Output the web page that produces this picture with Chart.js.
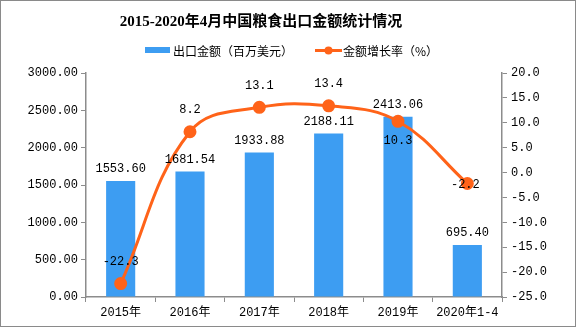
<!DOCTYPE html>
<html>
<head>
<meta charset="utf-8">
<script src="https://cdn.jsdelivr.net/npm/chart.js@4"></script>
<style>
  body { margin: 0; background: #fff; }
  #wrap { width: 576px; height: 327px; }
</style>
</head>
<body>
<div id="wrap"><canvas id="myChart" width="576" height="327"></canvas></div>
<script>
const categories = ['2015年', '2016年', '2017年', '2018年', '2019年', '2020年1-4'];
const exportValues = [1553.60, 1681.54, 1933.88, 2188.11, 2413.06, 695.40];
const growthRates = [-22.3, 8.2, 13.1, 13.4, 10.3, -2.2];
const leftTickValues = [0, 500, 1000, 1500, 2000, 2500, 3000];
const rightTickValues = [-25, -20, -15, -10, -5, 0, 5, 10, 15, 20];

const titleText = '2015-2020年4月中国粮食出口金额统计情况';
const barLegend = '出口金额（百万美元）';
const lineLegend = '金额增长率（%）';

const BAR_COLOR = '#3d9df2';
const LINE_COLOR = '#ff6319';
const AXIS_COLOR = '#8c8c8c';
const NUM_FONT = "'Liberation Mono', 'Noto Sans CJK SC', monospace";
const CJK_FONT = "'Noto Sans CJK SC', sans-serif";

// where the growth label sits relative to its point
const lineLabelPlace = ['top', 'top', 'top', 'top', 'bottom', 'center'];

const decorPlugin = {
    id: 'decor',
    afterDraw(chart) {
        const ctx = chart.ctx;
        ctx.save();
        // frame
        ctx.strokeStyle = '#8a8a8a';
        ctx.lineWidth = 1;
        ctx.strokeRect(0.5, 0.5, chart.width - 1, chart.height - 1);

        // title
        ctx.fillStyle = '#000';
        ctx.textAlign = 'center';
        ctx.textBaseline = 'middle';
        ctx.font = "bold 15px 'Liberation Serif', 'Noto Sans CJK SC', serif";
        ctx.fillText(titleText, 261, 22);

        // legend
        ctx.font = '12px ' + CJK_FONT;
        ctx.textAlign = 'left';
        ctx.fillStyle = BAR_COLOR;
        ctx.fillRect(145, 47, 25, 6);
        ctx.fillStyle = '#000';
        ctx.fillText(barLegend, 173, 51);

        ctx.strokeStyle = LINE_COLOR;
        ctx.lineWidth = 3;
        ctx.beginPath();
        ctx.moveTo(315, 50.5);
        ctx.lineTo(342, 50.5);
        ctx.stroke();
        ctx.fillStyle = LINE_COLOR;
        ctx.beginPath();
        ctx.arc(328.5, 50.5, 4, 0, Math.PI * 2);
        ctx.fill();
        ctx.fillStyle = '#000';
        ctx.fillText(lineLegend, 343, 51);
        ctx.restore();
    },
    afterDatasetsDraw(chart) {
        const ctx = chart.ctx;
        ctx.save();
        ctx.fillStyle = '#000';
        ctx.font = '12px ' + NUM_FONT;
        ctx.textAlign = 'center';
        ctx.textBaseline = 'middle';

        const barMeta = chart.getDatasetMeta(1);
        barMeta.data.forEach((bar, i) => {
            ctx.fillText(exportValues[i].toFixed(2), bar.x, bar.y - 12);
        });

        const lineMeta = chart.getDatasetMeta(0);
        lineMeta.data.forEach((pt, i) => {
            let dx = 0, dy = -22;
            if (lineLabelPlace[i] === 'bottom') dy = 20;
            if (lineLabelPlace[i] === 'center') { dy = 1; dx = -2; }
            ctx.fillText(growthRates[i].toFixed(1), pt.x + dx, pt.y + dy);
        });
        ctx.restore();
    }
};

const initChart = () => {
    const ctx = document.getElementById('myChart').getContext('2d');
    new Chart(ctx, {
        type: 'bar',
        data: {
            labels: categories,
            datasets: [
                {
                    type: 'line',
                    label: lineLegend,
                    data: growthRates,
                    yAxisID: 'y1',
                    borderColor: LINE_COLOR,
                    backgroundColor: LINE_COLOR,
                    borderWidth: 3,
                    pointRadius: 5,
                    pointHoverRadius: 5,
                    tension: 0.4,
                    order: 0
                },
                {
                    type: 'bar',
                    label: barLegend,
                    data: exportValues,
                    yAxisID: 'y',
                    backgroundColor: BAR_COLOR,
                    barPercentage: 0.42,
                    categoryPercentage: 1,
                    order: 1
                }
            ]
        },
        options: {
            responsive: false,
            animation: false,
            layout: { padding: { top: 73, left: 0, right: 0, bottom: 0 } },
            plugins: {
                legend: { display: false },
                title: { display: false },
                tooltip: { enabled: false }
            },
            scales: {
                x: {
                    offset: true,
                    grid: { offset: true, drawOnChartArea: false, tickLength: 5, color: AXIS_COLOR },
                    border: { color: AXIS_COLOR, width: 1.5 },
                    ticks: { color: '#000', font: { family: NUM_FONT, size: 12 }, padding: 4, maxRotation: 0 },
                    afterFit: (s) => { s.height = 30; }
                },
                y: {
                    position: 'left',
                    min: 0,
                    max: 3000,
                    afterBuildTicks: (s) => { s.ticks = leftTickValues.map(v => ({ value: v })); },
                    grid: { drawOnChartArea: false, tickLength: 5, color: AXIS_COLOR },
                    border: { color: AXIS_COLOR, width: 1.5 },
                    ticks: {
                        color: '#000',
                        font: { family: NUM_FONT, size: 12 },
                        padding: 3,
                        callback: (v) => Number(v).toFixed(2)
                    },
                    afterFit: (s) => { s.width = 86; }
                },
                y1: {
                    position: 'right',
                    min: -25,
                    max: 20,
                    afterBuildTicks: (s) => { s.ticks = rightTickValues.map(v => ({ value: v })); },
                    grid: { drawOnChartArea: false, tickLength: 5, color: AXIS_COLOR },
                    border: { color: AXIS_COLOR, width: 1.5 },
                    ticks: {
                        color: '#000',
                        font: { family: NUM_FONT, size: 12 },
                        padding: 4,
                        callback: (v) => Number(v).toFixed(1)
                    },
                    afterFit: (s) => { s.width = 74; }
                }
            }
        },
        plugins: [decorPlugin]
    });
};

document.addEventListener('DOMContentLoaded', initChart);
</script>
</body>
</html>
